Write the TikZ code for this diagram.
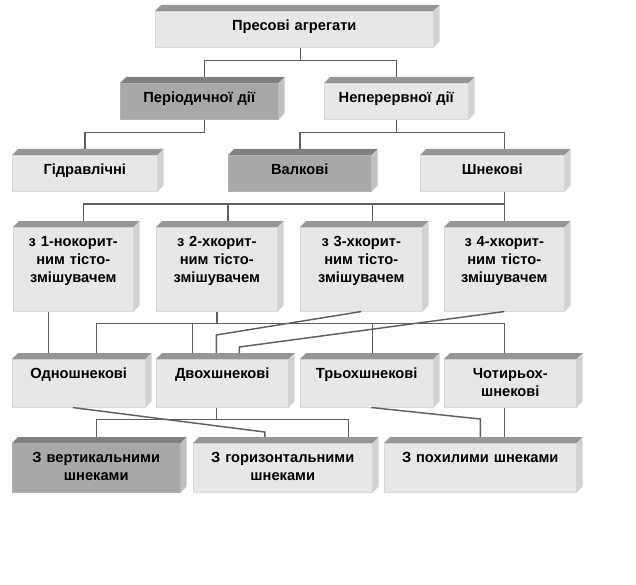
\documentclass[tikz,border=0pt]{standalone}
\usepackage{fontspec}
\setmainfont{Liberation Sans}
\usetikzlibrary{calc}
\definecolor{facelt}{RGB}{231,231,231}
\definecolor{facedk}{RGB}{168,168,168}
\definecolor{toplt}{RGB}{150,150,150}
\definecolor{topdk}{RGB}{128,128,128}
\definecolor{sidelt}{RGB}{210,210,210}
\definecolor{sidedk}{RGB}{192,192,192}
\definecolor{wire}{RGB}{95,95,95}

\begin{document}
\begin{tikzpicture}[x=0.75pt, y=-0.75pt,
    slab/.style={anchor=north west, inner sep=0pt, align=center, fill=facelt, draw=white!85!black, line width=0.4pt,
        font=\fontsize{11pt}{13.5pt}\selectfont\bfseries, text height=14.6pt, text depth=12.4pt},
    dark/.style={fill=facedk, draw=black!30},
    tall/.style={text depth=48.4pt},
    mid/.style={text depth=21.4pt},
    low/.style={text depth=22.1pt},
    link/.style={draw=wire, line width=1.1pt}]
    \useasboundingbox (0,0) rectangle (636,585);

    \node[slab, text width=208.5pt] (press) at (155,11) {Пресові агрегати};
    \node[slab, dark, text width=118.5pt] (per) at (120,83) {Періодичної дії};
    \node[slab, text width=108pt] (nep) at (324,83) {Неперервної дії};
    \node[slab, text width=108.75pt] (hyd) at (12,155) {Гідравлічні};
    \node[slab, dark, text width=107.25pt] (val) at (228,155) {Валкові};
    \node[slab, text width=108pt] (shn) at (420,155) {Шнекові};
    \node[slab, tall, text width=90pt] (k1) at (13,227) {з 1-нокорит-\\ним тісто-\\змішувачем};
    \node[slab, tall, text width=90.75pt] (k2) at (156,227) {з 2-хкорит-\\ним тісто-\\змішувачем};
    \node[slab, tall, text width=91.5pt] (k3) at (300,227) {з 3-хкорит-\\ним тісто-\\змішувачем};
    \node[slab, tall, text width=90pt] (k4) at (444,227) {з 4-хкорит-\\ним тісто-\\змішувачем};
    \node[slab, mid, text width=99.75pt] (s1) at (12,359) {Одношнекові};
    \node[slab, mid, text width=99pt] (s2) at (156,359) {Двохшнекові};
    \node[slab, mid, text width=99.75pt] (s3) at (300,359) {Трьохшнекові};
    \node[slab, mid, text width=99pt] (s4) at (444,359) {Чотирьох-\\шнекові};
    \node[slab, low, dark, text width=126pt] (vert) at (12,443) {З вертикальними\\шнеками};
    \node[slab, low, text width=134.25pt] (hor) at (193,443) {З горизонтальними\\шнеками};
    \node[slab, low, text width=144pt] (incl) at (384,443) {З похилими шнеками};

    % connectors
    \draw[link] ($(press.south)+(6,0)$) -- ++(0,13) coordinate (j1);
    \draw[link] ($(per.north)+(5,0)$) |- (j1) -| (nep.north);
    \draw[link] ($(per.south)+(5,0)$) -- ++(0,13) -| (hyd.north);
    \draw[link] (nep.south) -- ++(0,13) coordinate (j2);
    \draw[link] (val.north) |- (j2) -| ($(shn.north)+(12,0)$);
    \draw[link] ($(shn.south)+(12,0)$) -- (k4.north);
    \draw[link] ($(k1.north)+(10,0)$) |- ($(k4.north)+(0,-23)$);
    \foreach \k in {k2,k3}
        \draw[link] ($(\k.north)+(11,0)$) -- ++(0,-23);

    \draw[link] ($(k1.south)+(-25,0)$) -- ($(k1.south |- s1.north)+(-25,0)$);
    \draw[link] (k2.south) -- ++(0,12) coordinate (j4);
    \draw[link] ($(s1.north)+(17.5,0)$) |- (j4) -| ($(s4.north)+(-6,0)$);
    \draw[link] ($(s2.north)+(-30,0)$) -- ($(s2.north |- j4)+(-30,0)$);
    \draw[link] ($(s3.north)+(5.5,0)$) -- ($(s3.north |- j4)+(5.5,0)$);
    \draw[link] (k3.south) -- ($(s2.north)+(-6,-24)$) -- ($(s2.north)+(-6,0)$);
    \draw[link] (k4.south) -- ($(s2.north)+(17,-12)$) -- ($(s2.north)+(17,0)$);

    \draw[link] ($(s1.south)+(-6,0)$) -- ($(hor.north)+(-18,-11)$) -- ($(hor.north)+(-18,0)$);
    \draw[link] ($(s2.south)+(-6,0)$) -- ++(0,12) coordinate (j5);
    \draw[link] (vert.north) |- (j5) -| ($(hor.north)+(65.5,0)$);
    \draw[link] ($(s3.south)+(4.5,0)$) -- ($(incl.north)+(0,-24)$) -- (incl.north);
    \draw[link] ($(s4.south)+(-6,0)$) -- ($(incl.north)+(24,0)$);

    % top and side faces
    \foreach \n/\tp/\sd in {press/toplt/sidelt, per/topdk/sidedk, nep/toplt/sidelt,
            hyd/toplt/sidelt, val/topdk/sidedk, shn/toplt/sidelt,
            k1/toplt/sidelt, k2/toplt/sidelt, k3/toplt/sidelt, k4/toplt/sidelt,
            s1/toplt/sidelt, s2/toplt/sidelt, s3/toplt/sidelt, s4/toplt/sidelt,
            vert/topdk/sidedk, hor/toplt/sidelt, incl/toplt/sidelt}{
        \fill[\tp] (\n.north west) -- ++(6,-6) -- ($(\n.north east)+(6,-6)$) -- (\n.north east) -- cycle;
        \fill[\sd] (\n.north east) -- ++(6,-6) -- ($(\n.south east)+(6,-6)$) -- (\n.south east) -- cycle;
    }
\end{tikzpicture}
\end{document}
